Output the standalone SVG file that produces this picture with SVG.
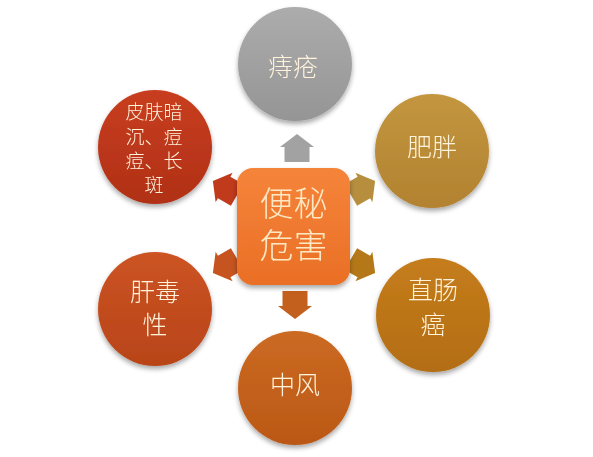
<svg xmlns="http://www.w3.org/2000/svg" width="593" height="457" viewBox="0 0 593 457">
<defs>
<filter id="sh" x="-20%" y="-20%" width="140%" height="150%">
<feGaussianBlur in="SourceAlpha" stdDeviation="2.5"/>
<feOffset dx="0" dy="3" result="b"/>
<feComponentTransfer><feFuncA type="linear" slope="0.35"/></feComponentTransfer>
<feMerge><feMergeNode/><feMergeNode in="SourceGraphic"/></feMerge>
</filter>
<linearGradient id="gGray" x1="0" y1="0" x2="0" y2="1"><stop offset="0" stop-color="#acacac"/><stop offset="1" stop-color="#959595"/></linearGradient>
<linearGradient id="gFat" x1="0" y1="0" x2="0" y2="1"><stop offset="0" stop-color="#c3963f"/><stop offset="1" stop-color="#b28230"/></linearGradient>
<linearGradient id="gRect" x1="0" y1="0" x2="0" y2="1"><stop offset="0" stop-color="#c57d1c"/><stop offset="1" stop-color="#b36d12"/></linearGradient>
<linearGradient id="gStroke" x1="0" y1="0" x2="0" y2="1"><stop offset="0" stop-color="#cb6a22"/><stop offset="1" stop-color="#bb5816"/></linearGradient>
<linearGradient id="gLiver" x1="0" y1="0" x2="0" y2="1"><stop offset="0" stop-color="#cc5424"/><stop offset="1" stop-color="#b84418"/></linearGradient>
<linearGradient id="gSkin" x1="0" y1="0" x2="0" y2="1"><stop offset="0" stop-color="#c83e20"/><stop offset="1" stop-color="#b03016"/></linearGradient>
<linearGradient id="gCenter" x1="0" y1="0" x2="0" y2="1"><stop offset="0" stop-color="#f5843a"/><stop offset="1" stop-color="#ea6f26"/></linearGradient>
<path id="arr" d="M14,0 L1,-17 L1,-12.5 L-14,-12.5 L-14,12.5 L1,12.5 L1,17 Z"/>
</defs>
<style>
.t{font-family:"Liberation Sans","Noto Sans CJK SC","Noto Sans CJK TC",sans-serif;font-weight:300;fill:#fff3dc;text-anchor:middle}
.s{font-size:25px}
.m{font-size:19px}
.c{font-size:34px;fill:#fde8c4}
</style>
<rect width="593" height="457" fill="#ffffff"/>
<g id="connectors">
<use href="#arr" transform="translate(297,148) rotate(-90)" fill="#a2a2a2"/>
<use href="#arr" transform="translate(363,188) rotate(-30)" fill="#b68e3e"/>
<use href="#arr" transform="translate(363,266) rotate(30)" fill="#b57818"/>
<use href="#arr" transform="translate(295,305) rotate(90)" fill="#c4601e"/>
<use href="#arr" transform="translate(225,266) rotate(150)" fill="#c65420"/>
<use href="#arr" transform="translate(225,188) rotate(-150)" fill="#c03a1c"/>
</g>
<g id="n-center" filter="url(#sh)">
<rect x="237" y="168" width="113" height="117" rx="16" fill="url(#gCenter)"/>
<text class="t c" x="293.5" y="216">便秘<tspan x="293.5" dy="42">危害</tspan></text>
</g>
<g id="n-hemorrhoid" filter="url(#sh)">
<circle cx="295" cy="64" r="57" fill="url(#gGray)"/>
<text class="t s" x="293" y="76" fill="#ffffff">痔疮</text>
</g>
<g id="n-obesity" filter="url(#sh)">
<circle cx="432" cy="151" r="57" fill="url(#gFat)"/>
<text class="t s" x="432" y="156">肥胖</text>
</g>
<g id="n-rectal" filter="url(#sh)">
<circle cx="433" cy="315" r="57" fill="url(#gRect)"/>
<text class="t s" x="433" y="299">直肠<tspan x="433" dy="35">癌</tspan></text>
</g>
<g id="n-stroke" filter="url(#sh)">
<circle cx="295" cy="388" r="57" fill="url(#gStroke)"/>
<text class="t s" x="295" y="394">中风</text>
</g>
<g id="n-liver" filter="url(#sh)">
<circle cx="155" cy="309" r="57" fill="url(#gLiver)"/>
<text class="t s" x="155" y="301">肝毒<tspan x="155" dy="33">性</tspan></text>
</g>
<g id="n-skin" filter="url(#sh)">
<circle cx="155" cy="147" r="57" fill="url(#gSkin)"/>
<text class="t m" x="154" y="119">皮肤暗<tspan x="154" dy="25">沉、痘</tspan><tspan x="154" dy="24">痘、长</tspan><tspan x="154" dy="24">斑</tspan></text>
</g>
</svg>
